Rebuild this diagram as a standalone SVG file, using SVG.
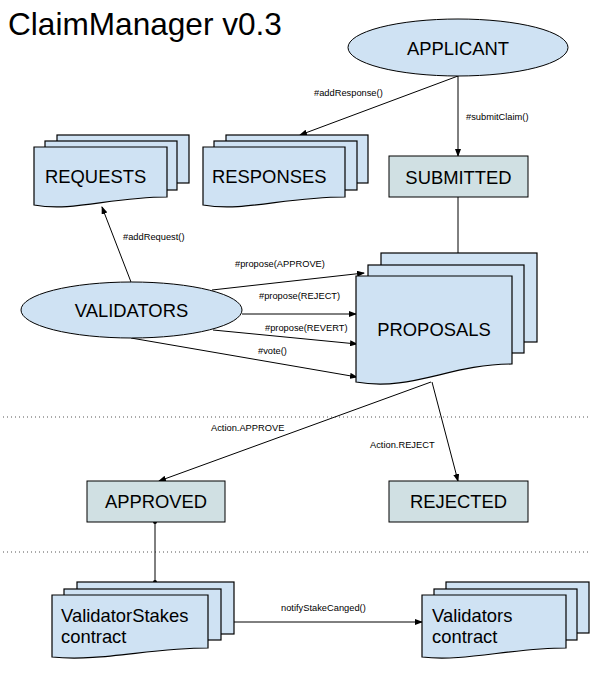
<svg xmlns="http://www.w3.org/2000/svg" width="599" height="681" viewBox="0 0 599 681">
<style>
.doc{fill:#cfe2f3;stroke:#000;stroke-width:1.2}
.ell{fill:#cfe2f3;stroke:#000;stroke-width:1}
.box{fill:#d0e0e3;stroke:#000;stroke-width:1}
.lbl{font-family:"Liberation Sans",Arial,sans-serif;font-size:18.4px;fill:#000}
.sm{font-family:"Liberation Sans",Arial,sans-serif;font-size:9.3px;fill:#000}
.edge{stroke:#000;stroke-width:1;fill:none}
.dot{stroke:#555;stroke-width:1;stroke-dasharray:1,3;fill:none}
</style>
<defs>
<marker id="arr" markerWidth="8" markerHeight="6" refX="7" refY="3" orient="auto" markerUnits="userSpaceOnUse">
<path d="M0,0 L8,3 L0,6 Z" fill="#000"/>
</marker>
<marker id="ball" markerWidth="5" markerHeight="5" refX="2.5" refY="2.5" markerUnits="userSpaceOnUse">
<circle cx="2.5" cy="2.5" r="2" fill="#000"/>
</marker>
</defs>
<rect width="599" height="681" fill="#fff"/>
<text x="8" y="35" font-family="Liberation Sans, Arial, sans-serif" font-size="31.6" fill="#000">ClaimManager v0.3</text>

<g id="separators">
<line class="dot" x1="3" y1="417" x2="590" y2="417"/>
<line class="dot" x1="3" y1="552" x2="590" y2="552"/>
</g>

<g id="connectors">
<line class="edge" x1="458" y1="76" x2="458" y2="156" marker-end="url(#arr)"/>
<line class="edge" x1="458" y1="76" x2="300" y2="135" marker-end="url(#arr)"/>
<line class="edge" x1="458" y1="197" x2="458" y2="253"/>
<line class="edge" x1="131" y1="282" x2="102" y2="207" marker-end="url(#arr)"/>
<line class="edge" x1="212" y1="290" x2="364" y2="273" marker-end="url(#arr)"/>
<line class="edge" x1="242" y1="314" x2="356" y2="314" marker-end="url(#arr)"/>
<line class="edge" x1="213" y1="330" x2="357" y2="344" marker-end="url(#arr)"/>
<line class="edge" x1="131" y1="338" x2="357" y2="377" marker-end="url(#arr)"/>
<line class="edge" x1="431" y1="382" x2="159" y2="481" marker-end="url(#arr)"/>
<line class="edge" x1="432" y1="382" x2="458" y2="481" marker-end="url(#arr)"/>
<line class="edge" x1="155" y1="522" x2="155" y2="582" marker-start="url(#ball)" marker-end="url(#ball)"/>
<line class="edge" x1="234" y1="622" x2="422" y2="622" marker-end="url(#arr)"/>
<text class="sm" x="314" y="96">#addResponse()</text>
<text class="sm" x="466" y="120">#submitClaim()</text>
<text class="sm" x="123" y="240">#addRequest()</text>
<text class="sm" x="235" y="267">#propose(APPROVE)</text>
<text class="sm" x="259" y="299">#propose(REJECT)</text>
<text class="sm" x="265" y="331">#propose(REVERT)</text>
<text class="sm" x="258" y="354">#vote()</text>
<text class="sm" x="211" y="431">Action.APPROVE</text>
<text class="sm" x="370" y="448">Action.REJECT</text>
<text class="sm" x="281" y="611">notifyStakeCanged()</text>
</g>

<g id="applicant">
<ellipse class="ell" cx="458" cy="47.5" rx="110" ry="28.5"/>
<text class="lbl" x="458" y="55" text-anchor="middle">APPLICANT</text>
</g>

<g id="requests">
<rect class="doc" x="57" y="135" width="132" height="48"/>
<rect class="doc" x="45" y="141" width="132" height="49"/>
<path class="doc" d="M34,147 H167 V197 C110,197 74,212 34,205 Z"/>
<text class="lbl" x="45" y="183">REQUESTS</text>
</g>

<g id="responses">
<rect class="doc" x="226" y="135" width="142" height="48"/>
<rect class="doc" x="214" y="141" width="143" height="49"/>
<path class="doc" d="M203,147 H345 V197 C284,197 245,212 203,205 Z"/>
<text class="lbl" x="212" y="183">RESPONSES</text>
</g>

<g id="submitted">
<rect class="box" x="389" y="156" width="139" height="41"/>
<text class="lbl" x="458.5" y="184" text-anchor="middle">SUBMITTED</text>
</g>

<g id="validators">
<ellipse class="ell" cx="131.5" cy="310" rx="110.5" ry="28"/>
<text class="lbl" x="131.5" y="317" text-anchor="middle">VALIDATORS</text>
</g>

<g id="proposals">
<rect class="doc" x="381" y="253" width="156" height="89"/>
<rect class="doc" x="368" y="265" width="156" height="88"/>
<path class="doc" d="M356,276 H512 V364 C450,364 411,392 356,382 Z"/>
<text class="lbl" x="434" y="336" text-anchor="middle">PROPOSALS</text>
</g>

<g id="approved">
<rect class="box" x="87" y="481" width="138" height="41"/>
<text class="lbl" x="156" y="508" text-anchor="middle">APPROVED</text>
</g>

<g id="rejected">
<rect class="box" x="389" y="481" width="139" height="41"/>
<text class="lbl" x="458.5" y="508" text-anchor="middle">REJECTED</text>
</g>

<g id="validatorstakes">
<rect class="doc" x="77" y="582" width="157" height="52"/>
<rect class="doc" x="64" y="589" width="157" height="51"/>
<path class="doc" d="M52,595 H208 V648 C150,648 100,662 52,657 Z"/>
<text class="lbl" x="61" y="622">ValidatorStakes</text>
<text class="lbl" x="61" y="643">contract</text>
</g>

<g id="validatorscontract">
<rect class="doc" x="446" y="582" width="143" height="51"/>
<rect class="doc" x="434" y="589" width="143" height="51"/>
<path class="doc" d="M422,595 H566 V648 C510,648 465,662 422,657 Z"/>
<text class="lbl" x="432" y="622">Validators</text>
<text class="lbl" x="432" y="643">contract</text>
</g>
</svg>
